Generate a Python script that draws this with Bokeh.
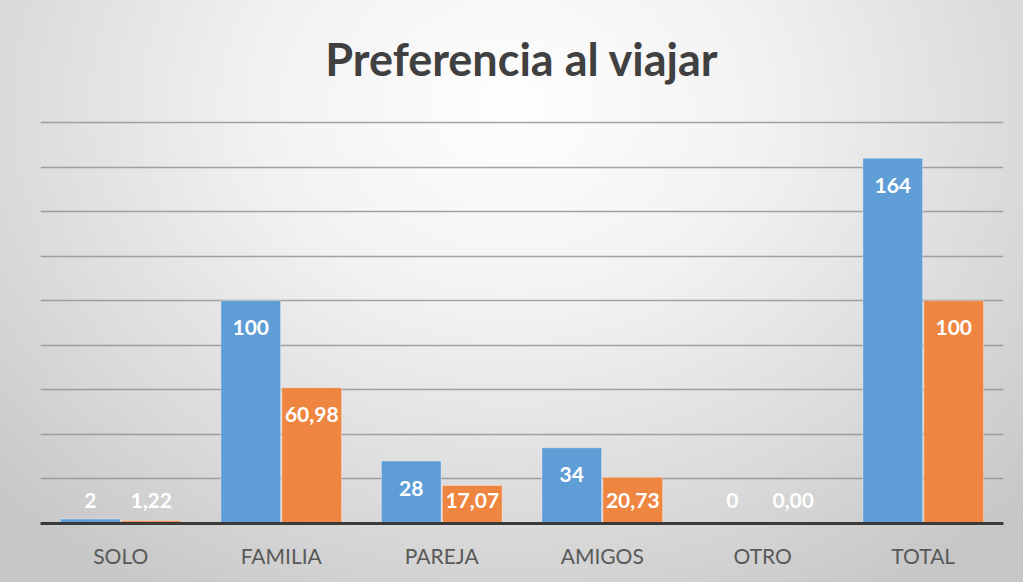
from bokeh.plotting import figure
from bokeh.models import ColumnDataSource, FactorRange, FixedTicker, Range1d, Label
from bokeh.transform import dodge
from bokeh.core.properties import value
from bokeh.embed import file_html
from bokeh.resources import INLINE

# ---- data ----
title_text = "Preferencia al viajar"
categories = ["SOLO", "FAMILIA", "PAREJA", "AMIGOS", "OTRO", "TOTAL"]
cantidad = [2, 100, 28, 34, 0, 164]
porcentaje = [1.22, 60.98, 17.07, 20.73, 0.00, 100]
cantidad_labels = ["2", "100", "28", "34", "0", "164"]
porcentaje_labels = ["1,22", "60,98", "17,07", "20,73", "0,00", "100"]
grid_ticks = [20, 40, 60, 80, 100, 120, 140, 160, 180]
y_max = 180

BLUE = "#5f9dd6"
ORANGE = "#ee8540"

# layout (pixels): frame spans the full height above the axis; the title lives inside it
H, W = 582, 1023
AXIS_PX = 523        # baseline position from top
TOPGRID_PX = 122     # where y_max gridline sits
TITLE_BASE_PX = 58
y_top = y_max * AXIS_PX / (AXIS_PX - TOPGRID_PX)
px_per_unit = (AXIS_PX - TOPGRID_PX) / y_max

def label_pos(vals):
    # label sits just inside the bar top, but never lower than near the baseline
    return [max(v - 27 / px_per_unit, 23 / px_per_unit) for v in vals]

src = ColumnDataSource(dict(
    cat=categories,
    cantidad=cantidad,
    porcentaje=porcentaje,
    cl=cantidad_labels,
    pl=porcentaje_labels,
    cy=label_pos(cantidad),
    py=label_pos(porcentaje),
))

p = figure(
    width=W, height=H,
    x_range=FactorRange(factors=categories, range_padding=0),
    y_range=Range1d(0, y_top),
    output_backend="svg", toolbar_location=None, tools="",
    min_border_left=40, min_border_right=20, min_border_top=0, min_border_bottom=H - AXIS_PX,
)
p.styles = {"background": "radial-gradient(ellipse 70% 100% at 50% 18%, #fefefe 0%, #f2f2f2 35%, #dbdbdb 70%, #c6c6c6 100%)"}
p.background_fill_color = None
p.border_fill_color = None
p.outline_line_color = None

p.add_layout(Label(
    x=len(categories) / 2, y=(AXIS_PX - TITLE_BASE_PX) / px_per_unit,
    text=title_text, text_align="center", text_baseline="alphabetic",
    text_font="Lato", text_font_style="bold", text_font_size="45px", text_color="#404040",
))

p.vbar(x=dodge("cat", -0.19, range=p.x_range), top="cantidad", width=0.372, source=src,
       fill_color=BLUE, line_color="white", line_alpha=0.35, line_width=1)
p.vbar(x=dodge("cat", 0.19, range=p.x_range), top="porcentaje", width=0.372, source=src,
       fill_color=ORANGE, line_color="white", line_alpha=0.35, line_width=1)

p.text(x=dodge("cat", -0.19, range=p.x_range), y="cy", text="cl", source=src,
       text_align="center", text_baseline="middle", text_color="white",
       text_font=value("Lato"), text_font_style="bold", text_font_size="21px")
p.text(x=dodge("cat", 0.19, range=p.x_range), y="py", text="pl", source=src,
       text_align="center", text_baseline="middle", text_color="white",
       text_font=value("Lato"), text_font_style="bold", text_font_size="21px")

p.yaxis.visible = False
p.ygrid.ticker = FixedTicker(ticks=grid_ticks)
p.ygrid.grid_line_color = "#8f8f8f"
p.ygrid.grid_line_width = 1.5
p.ygrid.grid_line_alpha = 0.8
p.xgrid.grid_line_color = None

p.xaxis.axis_line_color = "#3a3a3a"
p.xaxis.axis_line_width = 3
p.xaxis.major_tick_line_color = None
p.xaxis.minor_tick_line_color = None
p.xaxis.major_label_text_font = "Lato"
p.xaxis.major_label_text_font_size = "21px"
p.xaxis.major_label_text_color = "#595959"
p.xaxis.major_label_standoff = 13

open("out.html", "w").write(file_html(p, INLINE))
